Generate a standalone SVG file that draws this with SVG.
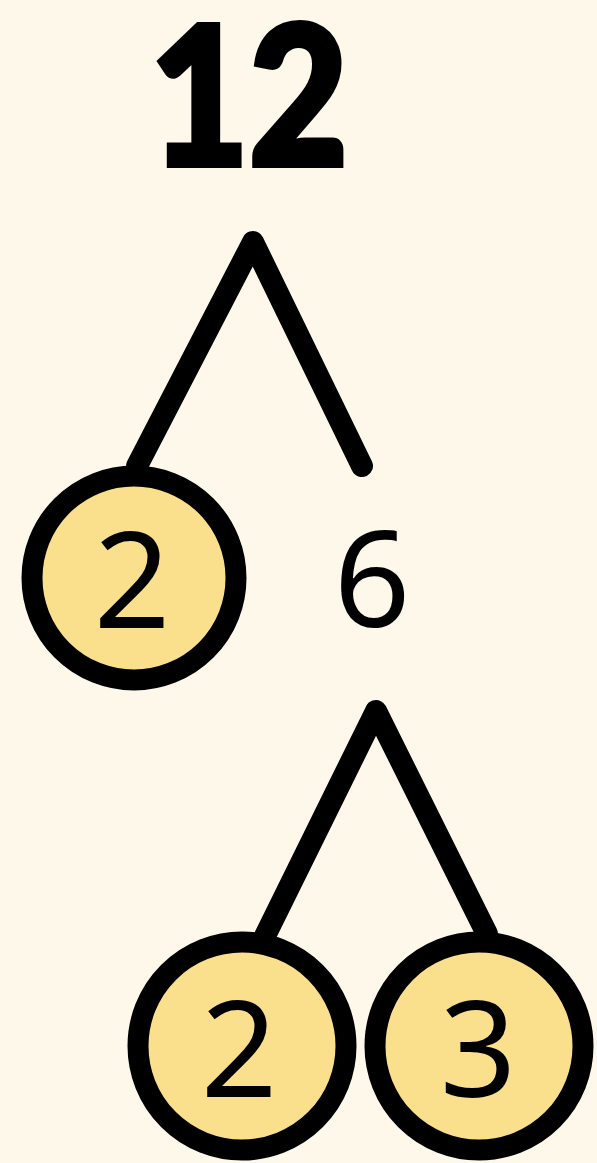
<svg xmlns="http://www.w3.org/2000/svg" width="597" height="1163" viewBox="0 0 597 1163">
<style>
.conn{fill:none;stroke:#000;stroke-width:22;stroke-linecap:round;stroke-linejoin:round}
.circ{fill:#FAE08C;stroke:#000;stroke-width:21}
.num{font-family:"Noto Sans","Open Sans",sans-serif;font-size:134px;fill:#000;text-anchor:middle}
.top{font-family:Lato,"Liberation Sans",sans-serif;font-weight:900;font-size:192px;fill:#000;stroke:#000;stroke-width:6;stroke-linejoin:miter}
</style>
<rect width="597" height="1163" fill="#FDF8EA"/>
<g id="connectors">
<polyline class="conn" points="137,466 253,242 362,466"/>
<polyline class="conn" points="265,936 376,711 487,934"/>
</g>
<g id="n12"><text class="top" x="150" y="165" textLength="198" lengthAdjust="spacingAndGlyphs">12</text></g>
<g id="n2a"><circle class="circ" cx="134" cy="578" r="102"/><text class="num" x="132" y="628">2</text></g>
<g id="n6"><text class="num" x="372" y="627">6</text></g>
<g id="n2b"><circle class="circ" cx="242" cy="1046" r="104"/><text class="num" x="239" y="1097">2</text></g>
<g id="n3"><circle class="circ" cx="479" cy="1046" r="104"/><text class="num" x="478" y="1097">3</text></g>
</svg>
